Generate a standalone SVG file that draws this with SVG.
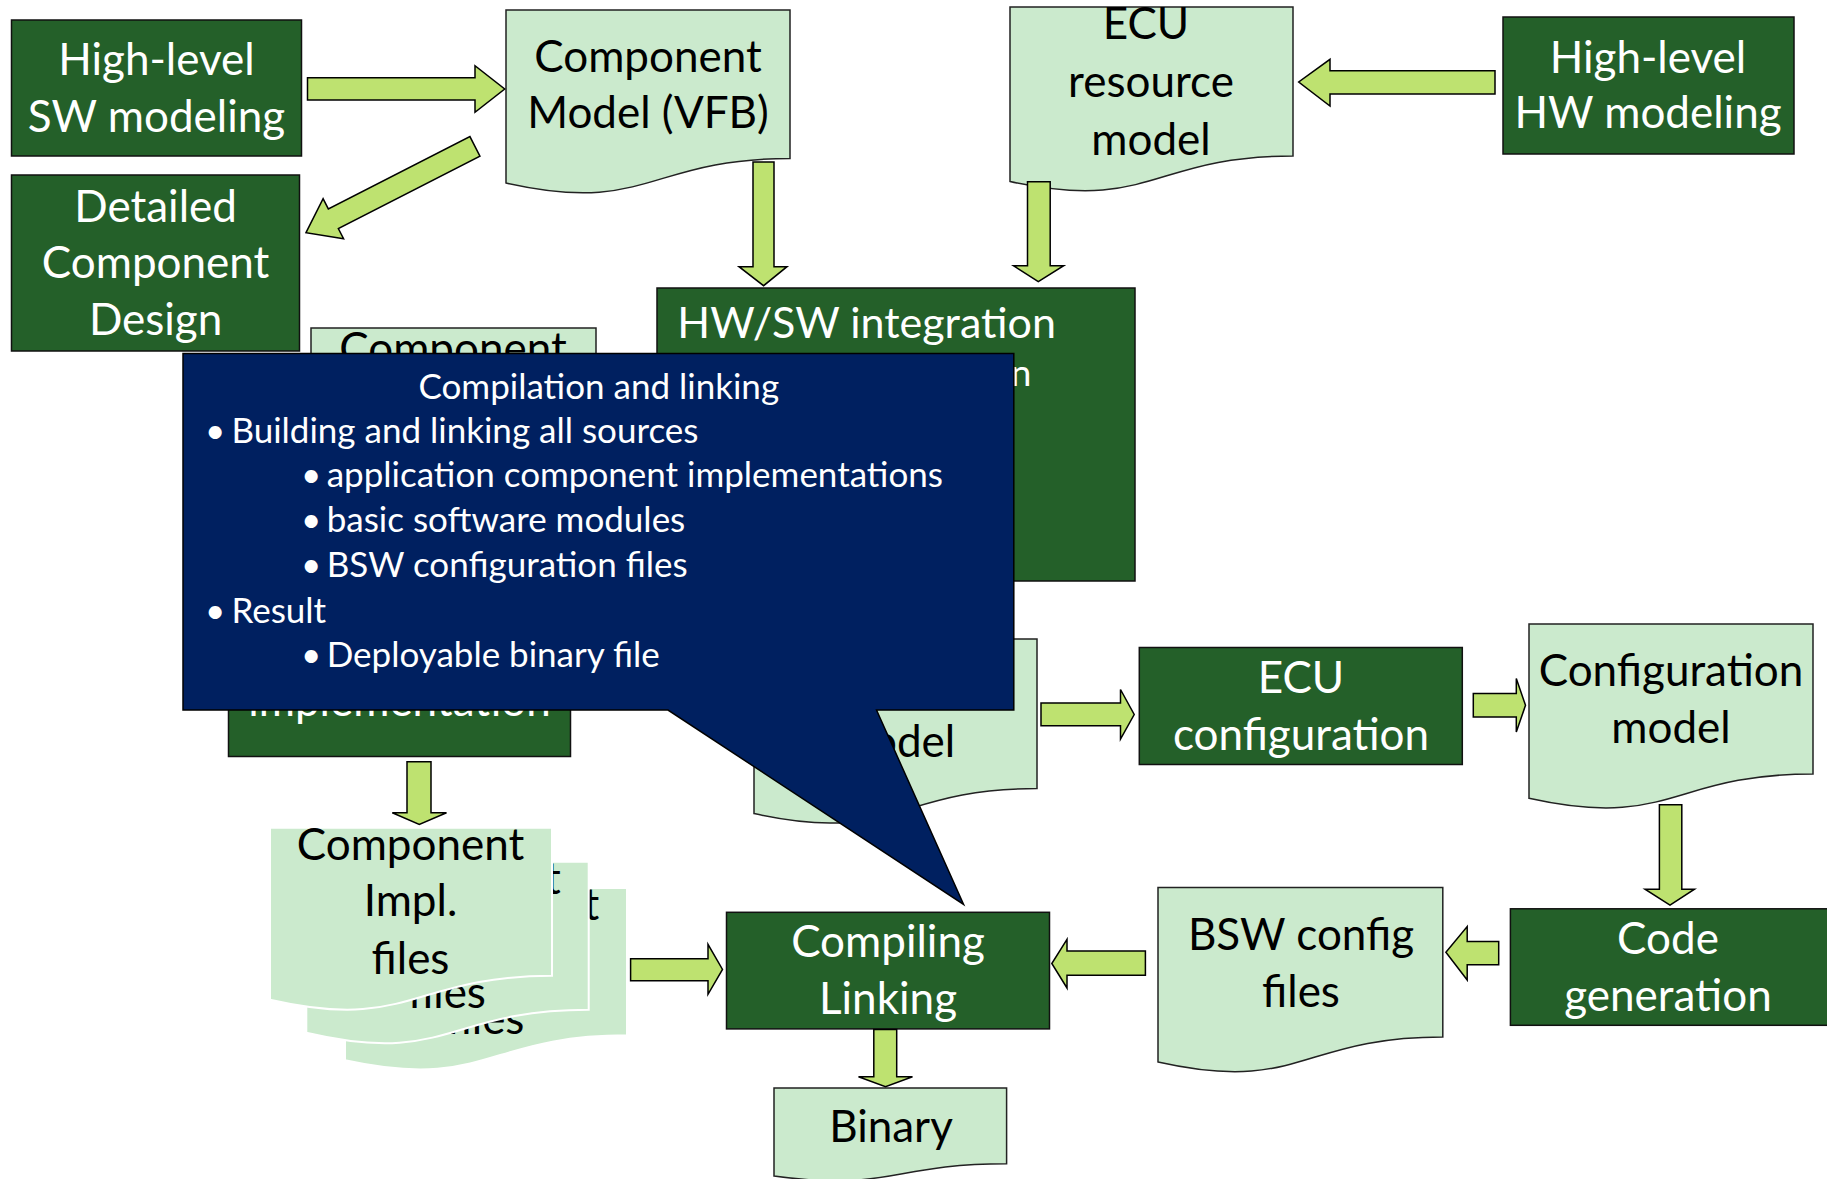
<svg xmlns="http://www.w3.org/2000/svg" width="1827" height="1179" viewBox="0 0 1827 1179">
<style>
.box{fill:#246029;stroke:#111;stroke-width:1.5}
.doc{fill:#CBEACD;stroke:#222;stroke-width:1.5}
.file{fill:#CBEACD;stroke:#fff;stroke-width:2}
.arr{fill:#BEE270;stroke:#000;stroke-width:1.5;stroke-linejoin:miter}
.wt{fill:#fff;font-family:Lato,"Open Sans",sans-serif;font-size:44px;text-anchor:middle}
.bt{fill:#000;font-family:Lato,"Open Sans",sans-serif;font-size:44px;text-anchor:middle}
.ct{fill:#fff;font-family:Lato,"Open Sans",sans-serif;font-size:35px}
.callout{fill:#002060;stroke:#000;stroke-width:1.5}
</style>
<rect width="1827" height="1179" fill="#fff"/>

<g id="hl-sw">
<rect class="box" x="11.5" y="20" width="290" height="136"/>
<text class="wt" x="156.5" y="75">High-level</text>
<text class="wt" x="156.5" y="131.5">SW modeling</text>
</g>

<g id="component-model">
<path class="doc" d="M506,10 H790 V158.5 C648,158.5 648,215 506,183 Z"/>
<text class="bt" x="648" y="71.7">Component</text>
<text class="bt" x="648" y="128">Model (VFB)</text>
</g>

<g id="ecu-resource">
<path class="doc" d="M1010,7 H1293 V156 C1151.5,156 1151.5,212.5 1010,181.5 Z"/>
<text class="bt" x="1146" y="39.3">ECU</text>
<text class="bt" x="1151" y="96.7">resource</text>
<text class="bt" x="1151" y="155">model</text>
</g>

<g id="hl-hw">
<rect class="box" x="1503" y="17" width="291" height="137"/>
<text class="wt" x="1648" y="72.7">High-level</text>
<text class="wt" x="1648" y="128.3">HW modeling</text>
</g>

<g id="detailed-design">
<rect class="box" x="11.5" y="175" width="288" height="176"/>
<text class="wt" x="155.6" y="221.7">Detailed</text>
<text class="wt" x="155.6" y="278">Component</text>
<text class="wt" x="155.6" y="335">Design</text>
</g>

<g id="component-doc">
<path class="doc" d="M311,328 H596 V476 C453.5,476 453.5,533 311,501 Z"/>
<text class="bt" x="453" y="364">Component</text>
</g>

<g id="hwsw">
<rect class="box" x="657" y="288" width="478" height="293"/>
<text class="wt" x="677.3" y="337.9" style="text-anchor:start;font-size:43px">HW/SW integration</text>
<text class="wt" x="1031.5" y="386" style="font-size:37px;text-anchor:end">n</text>
</g>

<g id="impl">
<rect class="box" x="228.5" y="540" width="342" height="216.5"/>
<text class="wt" x="399.5" y="716">implementation</text>
</g>

<g id="model-doc">
<path class="doc" d="M754,639 H1037 V788.6 C895.5,788.6 895.5,845 754,813.6 Z"/>
<text class="bt" x="895.5" y="757.3">model</text>
</g>

<g id="ecu-config">
<rect class="box" x="1139.3" y="647.5" width="323" height="117"/>
<text class="wt" x="1301" y="693">ECU</text>
<text class="wt" x="1301" y="750">configuration</text>
</g>

<g id="config-model">
<path class="doc" d="M1529,624 H1813 V774 C1671,774 1671,830 1529,798.3 Z"/>
<text class="bt" x="1671" y="686">Configuration</text>
<text class="bt" x="1671" y="743">model</text>
</g>

<g id="code-gen">
<rect class="box" x="1510.4" y="908.8" width="330" height="116.5"/>
<text class="wt" x="1668" y="954">Code</text>
<text class="wt" x="1668" y="1011">generation</text>
</g>

<g id="bsw-files">
<path class="doc" d="M1158,887.4 H1442.8 V1037 C1300.4,1037 1300.4,1094 1158,1062 Z"/>
<text class="bt" x="1301" y="949.8">BSW config</text>
<text class="bt" x="1301" y="1006.8">files</text>
</g>

<g id="compiling">
<rect class="box" x="726.5" y="912.3" width="323" height="116.6"/>
<text class="wt" x="888" y="957">Compiling</text>
<text class="wt" x="888" y="1014">Linking</text>
</g>

<g id="binary">
<path class="doc" d="M774,1088 H1006.6 V1163.7 C890.3,1163.7 890.3,1192 774,1176 Z"/>
<text class="bt" x="891" y="1142">Binary</text>
</g>

<g id="impl-files">
<path class="file" d="M345,888 H627 V1035.3 C486,1035.3 486,1091 345,1060.3 Z"/>
<text class="bt" x="485.5" y="919.8">Component</text>
<text class="bt" x="485.5" y="976.2">Impl.</text>
<text class="bt" x="485.5" y="1034.2">files</text>
<path class="file" d="M306.3,861.7 H588.7 V1009.7 C447.5,1009.7 447.5,1066 306.3,1032.8 Z"/>
<text class="bt" x="447" y="893.5">Component</text>
<text class="bt" x="447" y="950">Impl.</text>
<text class="bt" x="447" y="1008">files</text>
<path class="file" d="M270,827.8 H552 V975.8 C411,975.8 411,1032 270,999.7 Z"/>
<text class="bt" x="410.5" y="859.6">Component</text>
<text class="bt" x="410.5" y="916">Impl.</text>
<text class="bt" x="410.5" y="974">files</text>
</g>

<g id="connectors">
<polygon class="arr" points="307.5,77.7 475,77.7 475,65.7 504.7,89 475,112.3 475,100 307.5,100"/>
<polygon class="arr" transform="translate(306,232.7) rotate(-27.06)" points="0,0 30.7,-22.5 30.7,-11 189.7,-11 189.7,11 30.7,11 30.7,22.5"/>
<polygon class="arr" points="753,162 774,162 774,266.7 787,266.7 763.6,285.7 739,266.7 753,266.7"/>
<polygon class="arr" points="1027.5,181.7 1050.2,181.7 1050.2,265.7 1063.7,265.7 1038.3,281.7 1013.5,265.7 1027.5,265.7"/>
<polygon class="arr" points="1495,70.7 1330,70.7 1330,59.3 1298.7,82 1330,106 1330,94 1495,94"/>
<polygon class="arr" points="407,761.7 431,761.7 431,812.7 446.5,812.7 419.3,824.5 392.3,812.7 407,812.7"/>
<polygon class="arr" points="630.6,958.7 708,958.7 708,944.4 722.5,969.4 708,994.3 708,980.8 630.6,980.8"/>
<polygon class="arr" points="1145.4,951 1067,951 1067,939.3 1051.8,963.5 1067,988 1067,975.3 1145.4,975.3"/>
<polygon class="arr" points="1498.7,941.6 1467.2,941.6 1467.2,926.6 1445.9,952.3 1467.2,980 1467.2,964.7 1498.7,964.7"/>
<polygon class="arr" points="873.8,1029.5 896.7,1029.5 896.7,1076.7 912.5,1076.7 885.5,1086.7 858.5,1076.7 873.8,1076.7"/>
<polygon class="arr" points="1041,703 1120.5,703 1120.5,689.5 1134.2,714.5 1120.5,739 1120.5,725.7 1041,725.7"/>
<polygon class="arr" points="1473.3,693.5 1516.3,693.5 1516.3,678.5 1525.5,705.3 1516.3,732 1516.3,717 1473.3,717"/>
<polygon class="arr" points="1659.4,804.7 1681.8,804.7 1681.8,889.2 1694.5,889.2 1670,905.2 1645,889.2 1659.4,889.2"/>
</g>

<g id="callout">
<path class="callout" d="M183,353.5 H1013.8 V710 H876.5 L963.6,904.5 L668,710 H183 Z"/>
<text class="ct" x="598.8" y="399" style="text-anchor:middle">Compilation and linking</text>
<text class="ct" x="205" y="442.7">•</text>
<text class="ct" x="231.4" y="442.7">Building and linking all sources</text>
<text class="ct" x="301" y="486.7">•</text>
<text class="ct" x="326.7" y="486.7">application component implementations</text>
<text class="ct" x="301" y="531.7">•</text>
<text class="ct" x="326.7" y="531.7">basic software modules</text>
<text class="ct" x="301" y="577.3">•</text>
<text class="ct" x="326.7" y="577.3">BSW configuration files</text>
<text class="ct" x="205" y="622.7">•</text>
<text class="ct" x="231.4" y="622.7">Result</text>
<text class="ct" x="301" y="666.7">•</text>
<text class="ct" x="326.7" y="666.7">Deployable binary file</text>
</g>
</svg>
